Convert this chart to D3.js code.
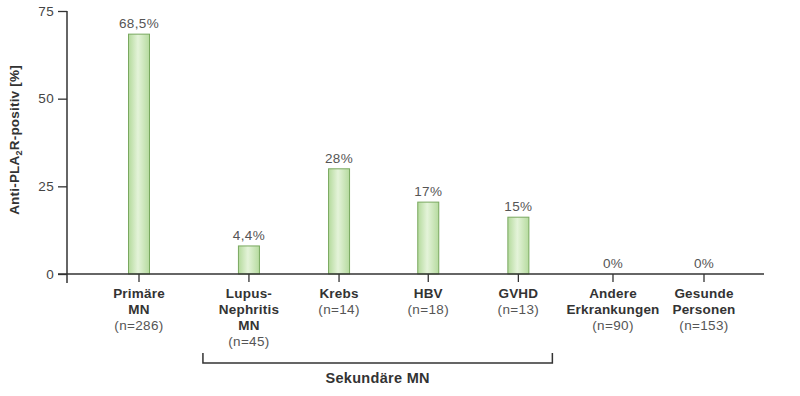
<!DOCTYPE html>
<html>
<head>
<meta charset="utf-8">
<script src="https://cdn.jsdelivr.net/npm/d3@7"></script>
<style>
  html, body { margin: 0; padding: 0; background: #fff; }
  svg { display: block; font-family: "Liberation Sans", Arial, Helvetica, sans-serif; }
</style>
</head>
<body>
<svg id="chart" width="800" height="396"></svg>
<script>
// ---- data ----
const categories = [
  ["Primäre", "MN"],
  ["Lupus-", "Nephritis", "MN"],
  ["Krebs"],
  ["HBV"],
  ["GVHD"],
  ["Andere", "Erkrankungen"],
  ["Gesunde", "Personen"]
];
const counts = ["(n=286)", "(n=45)", "(n=14)", "(n=18)", "(n=13)", "(n=90)", "(n=153)"];
const barValues = [68.4, 8.0, 30.0, 20.5, 16.2, 0, 0];
const valueLabels = ["68,5%", "4,4%", "28%", "17%", "15%", "0%", "0%"];
const yTicks = [0, 25, 50, 75];
const groupLabel = "Sekundäre MN";
const groupMembers = [1, 4]; // first and last index of the bracketed group
// layout slots (relative spacing of categories along x)
const slots = [0, 1.22, 2.22, 3.21, 4.21, 5.26, 6.27];

// ---- drawing ----
const svg = d3.select("#chart");
const x = d3.scaleLinear().domain([0, 6.27]).range([139, 704]);
const y = d3.scaleLinear().domain([0, 75]).range([274, 11]);
const barW = 21;
const fs = 13.5;
const ls = "0.35px";

const defs = svg.append("defs");
const grad = defs.append("linearGradient").attr("id", "barGrad")
  .attr("x1", "0%").attr("x2", "100%").attr("y1", "0%").attr("y2", "0%");
grad.append("stop").attr("offset", "0%").attr("stop-color", "#b4da9c");
grad.append("stop").attr("offset", "45%").attr("stop-color", "#e4f3d9");
grad.append("stop").attr("offset", "100%").attr("stop-color", "#b6db9f");

// y axis
const yAxis = d3.axisLeft(y).tickValues(yTicks).tickSize(9).tickPadding(4);
const gy = svg.append("g").attr("transform", "translate(67,0)").call(yAxis);
gy.select(".domain").remove();
gy.selectAll(".tick line").attr("stroke", "#333").attr("stroke-width", 1.3);
gy.selectAll(".tick text").attr("font-size", fs).attr("fill", "#444")
  .attr("letter-spacing", ls)
  .attr("font-family", "'Liberation Sans', Arial, sans-serif");
svg.append("line").attr("x1", 67).attr("x2", 67).attr("y1", y(75)).attr("y2", 283)
  .attr("stroke", "#333").attr("stroke-width", 1.5);

// bars
svg.append("g").selectAll("rect").data(barValues).join("rect")
  .attr("x", (d, i) => x(slots[i]) - barW / 2)
  .attr("width", barW)
  .attr("y", d => y(d))
  .attr("height", d => y(0) - y(d))
  .attr("fill", "url(#barGrad)")
  .attr("stroke", "#79a85f")
  .attr("stroke-width", 1)
  .style("display", d => d > 0 ? null : "none");

// x axis line
svg.append("line").attr("x1", 58).attr("x2", 764).attr("y1", y(0)).attr("y2", y(0))
  .attr("stroke", "#333").attr("stroke-width", 1.5);
// category ticks
svg.append("g").selectAll("line").data(barValues).join("line")
  .attr("x1", (d, i) => x(slots[i])).attr("x2", (d, i) => x(slots[i]))
  .attr("y1", y(0)).attr("y2", y(0) + 8)
  .attr("stroke", "#333").attr("stroke-width", 1.3);

// value labels
svg.append("g").selectAll("text").data(barValues).join("text")
  .attr("x", (d, i) => x(slots[i]))
  .attr("y", d => y(d) - 6)
  .attr("text-anchor", "middle")
  .attr("font-size", fs)
  .attr("letter-spacing", ls)
  .attr("fill", "#555")
  .text((d, i) => valueLabels[i]);

// category labels
const lineH = 16;
const cat = svg.append("g").selectAll("g").data(categories).join("g")
  .attr("transform", (d, i) => `translate(${x(slots[i])},298)`);
cat.each(function (lines, i) {
  const g = d3.select(this);
  lines.forEach((t, k) => {
    g.append("text").attr("y", k * lineH).attr("text-anchor", "middle")
      .attr("font-size", fs).attr("font-weight", "bold").attr("fill", "#333")
      .attr("letter-spacing", "0.2px").text(t);
  });
  g.append("text").attr("y", lines.length * lineH).attr("text-anchor", "middle")
    .attr("font-size", fs).attr("fill", "#555").attr("letter-spacing", ls).text(counts[i]);
});

// bracket for secondary MN
const bx1 = x(slots[groupMembers[0]]) - 46;
const bx2 = x(slots[groupMembers[1]]) + 34;
svg.append("path")
  .attr("d", `M${bx1},353 V363 H${bx2} V353`)
  .attr("fill", "none").attr("stroke", "#333").attr("stroke-width", 1.5);
svg.append("text").attr("x", (bx1 + bx2) / 2).attr("y", 383)
  .attr("text-anchor", "middle").attr("font-size", 14.5).attr("font-weight", "bold")
  .attr("letter-spacing", "0.3px")
  .attr("fill", "#333").text(groupLabel);

// y axis title
const yt = svg.append("text")
  .attr("transform", "translate(19,140) rotate(-90)")
  .attr("text-anchor", "middle")
  .attr("font-size", 13.5).attr("font-weight", "bold").attr("fill", "#333")
  .attr("letter-spacing", "0.2px");
yt.append("tspan").text("Anti-PLA");
yt.append("tspan").attr("font-size", 9).attr("dy", 3).text("2");
yt.append("tspan").attr("dy", -3).text("R-positiv [%]");
</script>
</body>
</html>
